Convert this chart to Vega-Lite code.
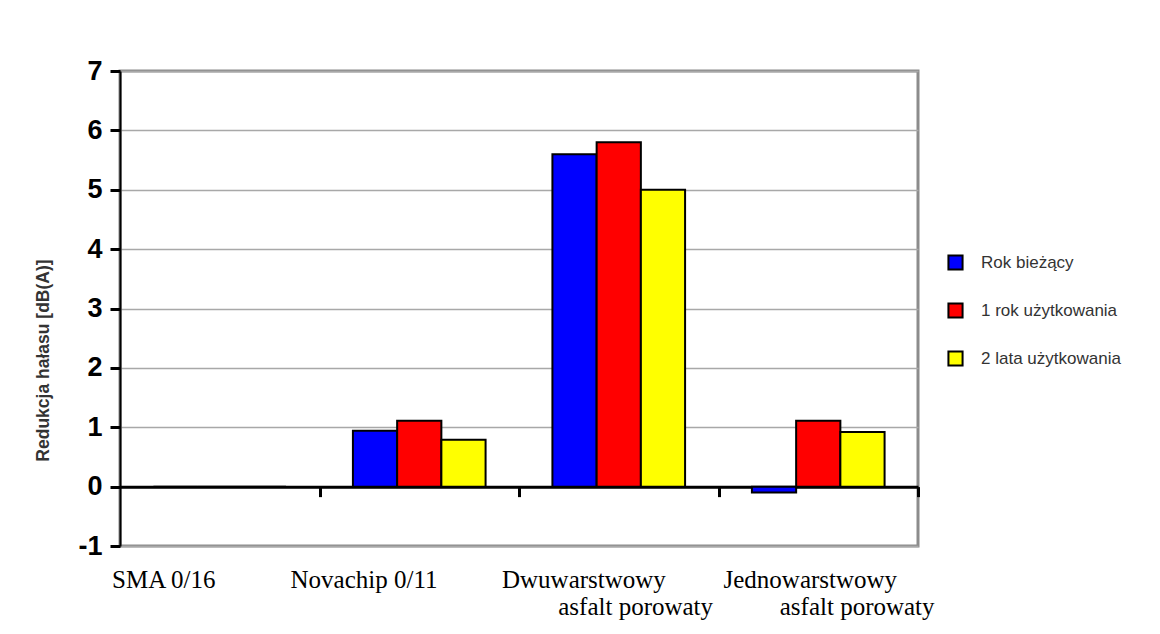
{
  "$schema": "https://vega.github.io/schema/vega-lite/v6.json",
  "autosize": "none",
  "padding": {"left": 120, "top": 71, "right": 242, "bottom": 88},
  "width": 798,
  "height": 475,
  "background": "white",
  "data": {
    "values": [
      {"surface": "SMA 0/16", "series": "Rok bieżący", "value": 0},
      {"surface": "SMA 0/16", "series": "1 rok użytkowania", "value": 0},
      {"surface": "SMA 0/16", "series": "2 lata użytkowania", "value": 0},
      {"surface": "Novachip 0/11", "series": "Rok bieżący", "value": 0.94},
      {"surface": "Novachip 0/11", "series": "1 rok użytkowania", "value": 1.11},
      {"surface": "Novachip 0/11", "series": "2 lata użytkowania", "value": 0.79},
      {"surface": "Dwuwarstwowy|asfalt porowaty", "series": "Rok bieżący", "value": 5.6},
      {"surface": "Dwuwarstwowy|asfalt porowaty", "series": "1 rok użytkowania", "value": 5.8},
      {"surface": "Dwuwarstwowy|asfalt porowaty", "series": "2 lata użytkowania", "value": 5.0},
      {"surface": "Jednowarstwowy|asfalt porowaty", "series": "Rok bieżący", "value": -0.1},
      {"surface": "Jednowarstwowy|asfalt porowaty", "series": "1 rok użytkowania", "value": 1.11},
      {"surface": "Jednowarstwowy|asfalt porowaty", "series": "2 lata użytkowania", "value": 0.92}
    ]
  },
  "mark": {"type": "bar", "stroke": "black", "strokeWidth": 2},
  "encoding": {
    "x": {
      "field": "surface",
      "type": "nominal",
      "sort": null,
      "scale": {"paddingInner": 0.335, "paddingOuter": 0.1675},
      "axis": {
        "title": null,
        "offset": -59.375,
        "domainColor": "black",
        "domainWidth": 3,
        "tickOffset": 99.75,
        "tickColor": "black",
        "tickWidth": 3,
        "tickSize": 10,
        "labelAngle": 0,
        "labelFont": "Liberation Serif",
        "labelFontSize": 25,
        "labelColor": "black",
        "labelAlign": "left",
        "labelBaseline": "top",
        "labelPadding": 71,
        "labelLineHeight": 27,
        "labelLimit": 0,
        "labelExpr": "indexof(datum.label, '|') > 0 ? [split(datum.label, '|')[0], '\u200b\u00a0\u00a0\u00a0\u00a0\u00a0\u00a0\u00a0\u00a0\u00a0' + split(datum.label, '|')[1]] : datum.label",
        "labelOffset": {
          "condition": [
            {"test": "datum.value === 'SMA 0/16'", "value": -208},
            {"test": "datum.value === 'Novachip 0/11'", "value": -229},
            {"test": "datum.value === 'Dwuwarstwowy|asfalt porowaty'", "value": -217}
          ],
          "value": -195
        }
      }
    },
    "xOffset": {
      "field": "series",
      "type": "nominal",
      "sort": ["Rok bieżący", "1 rok użytkowania", "2 lata użytkowania"],
      "scale": {"paddingInner": 0, "paddingOuter": 0}
    },
    "y": {
      "field": "value",
      "type": "quantitative",
      "scale": {"domain": [-1, 7], "nice": false, "zero": false},
      "axis": {
        "values": [-1, 0, 1, 2, 3, 4, 5, 6, 7],
        "labelExpr": "'' + datum.value",
        "title": "Redukcja hałasu [dB(A)]",
        "titleFont": "Liberation Sans",
        "titleFontSize": 17.5,
        "titleFontWeight": "bold",
        "titleColor": "#333333",
        "titleAngle": -90,
        "titleAlign": "center",
        "titleBaseline": "middle",
        "titleX": -77,
        "titleY": 289,
        "grid": true,
        "gridColor": "#a8a8a8",
        "gridWidth": 1.5,
        "domainColor": "black",
        "domainWidth": 2,
        "tickColor": "black",
        "tickWidth": 3,
        "tickSize": 10,
        "labelFont": "Liberation Sans Narrow, Arial Narrow, Liberation Sans",
        "labelFontSize": 27,
        "labelFontWeight": "bold",
        "labelColor": "black",
        "labelPadding": 8
      }
    },
    "color": {
      "field": "series",
      "type": "nominal",
      "sort": ["Rok bieżący", "1 rok użytkowania", "2 lata użytkowania"],
      "scale": {
        "domain": ["Rok bieżący", "1 rok użytkowania", "2 lata użytkowania"],
        "range": ["#0000ff", "#ff0000", "#ffff00"]
      },
      "legend": {
        "title": null,
        "orient": "none",
        "legendX": 827,
        "legendY": 183,
        "padding": 0,
        "symbolType": "square",
        "symbolSize": 200,
        "symbolStrokeColor": "black",
        "symbolStrokeWidth": 2,
        "symbolOpacity": 1,
        "labelFont": "Liberation Sans",
        "labelFontSize": 17,
        "labelColor": "#333333",
        "labelOffset": 17,
        "rowPadding": 25
      }
    }
  },
  "config": {
    "view": {"stroke": "#8c8c8c", "strokeWidth": 3}
  }
}
